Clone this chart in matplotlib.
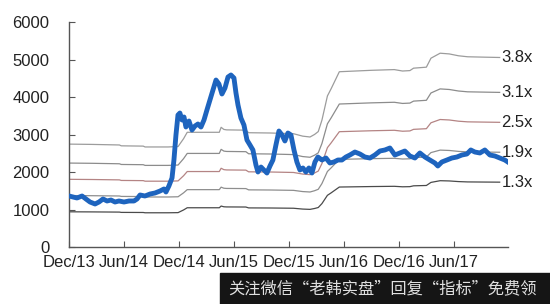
import numpy as np
import matplotlib.pyplot as plt

plt.rcParams['font.family'] = ['Liberation Sans', 'DejaVu Sans']

# months counted from Dec/13
price_m = [0, 0.44, 0.87, 1.42, 1.85, 2.29, 2.84, 3.27, 3.71, 4.15, 4.58, 5.02, 5.45, 6.0,
           6.55, 7.09, 7.42, 7.75, 8.29, 8.84, 9.38, 9.93, 10.36, 10.58, 10.9, 11.24, 11.45,
           11.67, 11.89, 12.1, 12.33, 12.55, 12.76, 13.09, 13.42, 13.75, 14.07, 14.4, 14.73,
           15.05, 15.38, 15.71, 16.04, 16.36, 16.69, 17.02, 17.35, 17.67, 18.0, 18.22, 18.44,
           18.76, 19.09, 19.42, 19.75, 20.07, 20.4, 20.62, 20.95, 21.27, 21.6, 21.93, 22.25,
           22.58, 22.91, 23.24, 23.56, 23.89, 24.22, 24.55, 24.87, 25.2, 25.53, 25.85, 26.18,
           26.51, 26.84, 27.16, 27.6, 28.04, 28.47, 28.91, 29.35, 29.78, 30.22, 30.65, 31.2,
           31.75, 32.29, 32.84, 33.38, 33.93, 34.47, 35.02, 35.56, 36.11, 36.65, 37.2, 37.75,
           38.29, 38.84, 39.38, 39.93, 40.25, 40.69, 41.24, 41.78, 42.33, 42.87, 43.42, 43.85,
           44.29, 44.84, 45.38, 45.93, 46.47, 47.02, 47.56, 47.89]
price_v = [1360, 1333, 1307, 1360, 1280, 1200, 1147, 1200, 1280, 1227, 1253, 1200, 1227, 1200,
           1227, 1227, 1280, 1387, 1360, 1413, 1440, 1493, 1547, 1467, 1627, 1840, 2320,
           2987, 3520, 3573, 3387, 3467, 3200, 3360, 3120, 3227, 3280, 3200, 3387,
           3653, 3920, 4187, 4453, 4347, 4080, 4240, 4533, 4587, 4507, 4107, 3787,
           3440, 3253, 2853, 2720, 2587, 2187, 2000, 2133, 2053, 1973, 2160, 2320,
           2720, 3093, 2987, 2827, 3040, 2987, 2587, 2267, 2053, 2107, 2000, 2107,
           1973, 2267, 2400, 2320, 2373, 2240, 2267, 2320, 2320, 2400, 2453, 2533,
           2480, 2400, 2373, 2453, 2560, 2587, 2640, 2453, 2507, 2560, 2427, 2373,
           2507, 2400, 2320, 2240, 2160, 2267, 2320, 2373, 2400, 2453, 2480, 2587,
           2533, 2507, 2587, 2453, 2427, 2373, 2320, 2267]

# per-share base for the PB bands
base_m = [0, 2.5, 5.5, 5.7, 8.1, 8.3, 10.8, 11.9, 12.5, 12.9, 16.4, 16.6, 16.9, 17.2, 19.3,
          19.6, 22, 24.5, 25.5, 26.3, 26.8, 27.2, 27.6, 28.2, 28.6, 29.5, 33, 35.5, 36.4,
          37.2, 37.6, 39.0, 39.5, 40.5, 41.5, 42.5, 43.5, 45.5, 47.0]
base_v = [722, 720, 716, 710, 708, 702, 702, 705, 760, 805, 805, 840, 825, 822, 820,
          802, 800, 795, 778, 772, 790, 810, 890, 1060, 1110, 1230, 1240, 1245, 1235,
          1238, 1255, 1262, 1325, 1360, 1355, 1342, 1335, 1332, 1330]

multiples = [3.8, 3.1, 2.5, 1.9, 1.3]
band_labels = ['3.8x', '3.1x', '2.5x', '1.9x', '1.3x']
band_colors = ['#9c9c9c', '#8c8c8c', '#b48484', '#8e8e8e', '#4a4a4a']

tick_m = [0, 6, 12, 18, 24, 30, 36, 42]
tick_labels = ['Dec/13', 'Jun/14', 'Dec/14', 'Jun/15', 'Dec/15', 'Jun/16', 'Dec/16', 'Jun/17']

fig = plt.figure(figsize=(5.5, 3.04), dpi=100)
ax = fig.add_axes([0.1255, 0.1875, 0.798, 0.7401])

base = np.array(base_v)
for k, c, lab in zip(multiples, band_colors, band_labels):
    ax.plot(base_m, base * k, color=c, lw=0.9)
    ax.text(base_m[-1] + 0.2, base[-1] * k, lab, fontsize=12, color='#222222',
            ha='left', va='center', clip_on=False)

ax.plot(price_m, price_v, color='#1e64be', lw=3.5, zorder=5, solid_joinstyle='round')

ax.set_xlim(0, 47.9)
ax.set_ylim(0, 6000)
ax.set_yticks(range(0, 6001, 1000))
ax.set_xticks(tick_m)
ax.set_xticklabels(tick_labels)
ax.tick_params(direction='in', length=4, color='#555555', labelsize=12, labelcolor='#222222')
ax.tick_params(axis='y', pad=14)
ax.tick_params(axis='x', pad=6)
for s in ['top', 'right']:
    ax.spines[s].set_visible(False)
for s in ['left', 'bottom']:
    ax.spines[s].set_color('#555555')
    ax.spines[s].set_linewidth(1.0)

# watermark banner at the bottom
fig.patches.append(plt.Rectangle((220 / 550, 0), 330 / 550, 31 / 304, transform=fig.transFigure,
                                 color='#151515', zorder=10))
fig.text(228 / 550, 15 / 304, '关注微信“老韩实盘”回复“指标”免费领', fontsize=11.7,
         color='#e0e0e0', family=['Noto Sans CJK SC', 'DejaVu Sans'],
         ha='left', va='center', zorder=11)

fig.savefig('out.png', dpi=100)
